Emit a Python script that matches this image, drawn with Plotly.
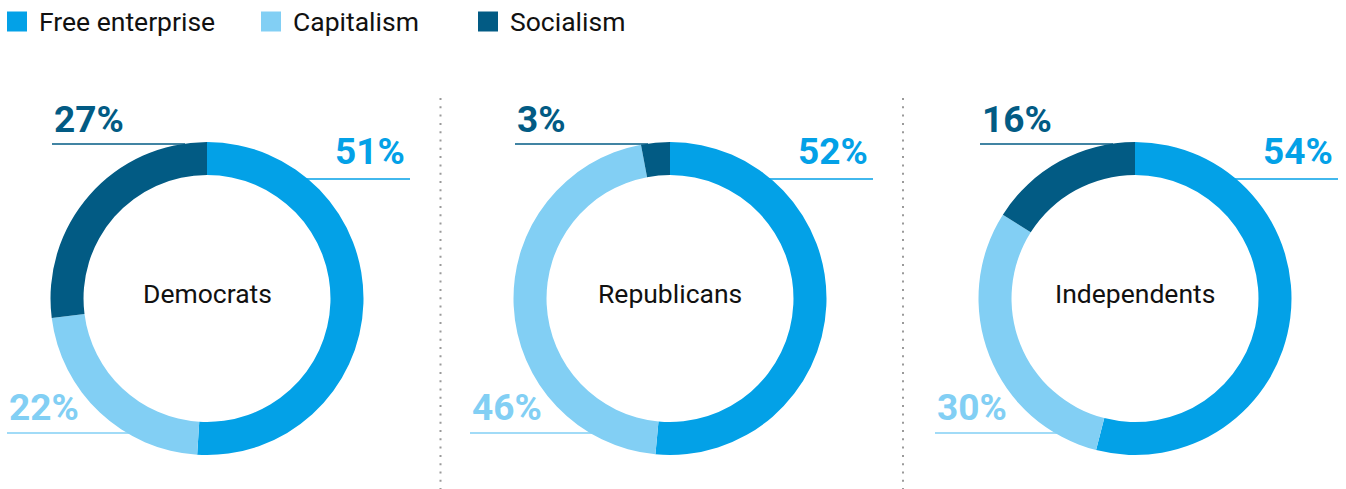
import math
import plotly.graph_objects as go

# --- data -------------------------------------------------------------
groups = ["Democrats", "Republicans", "Independents"]
categories = ["Free enterprise", "Capitalism", "Socialism"]
free_enterprise = [51, 52, 54]
capitalism = [22, 46, 30]
socialism = [27, 3, 16]

colors = ["#03a1e7", "#82cff4", "#025b84"]

# --- geometry (pixels) -------------------------------------------------
W, H = 1346, 489
centers_x = [207, 670, 1135]
cy = 298.5
R = 156.5
HOLE = 0.789
dividers_x = [440.5, 903]

PCT_FONT = dict(family="Roboto, sans-serif", size=37)
TXT_FONT = dict(family="Roboto, sans-serif", size=26.5, color="#111111")


def px(x):
    return x / W


def py(y):
    return 1 - y / H


def ring_edge(dy):
    """Horizontal half-width of the outer ring at vertical offset dy."""
    return math.sqrt(max(R * R - dy * dy, 0.0))


fig = go.Figure()
shapes = []
annotations = []

for i, g in enumerate(groups):
    cx = centers_x[i]
    vals = [free_enterprise[i], capitalism[i], socialism[i]]
    fig.add_trace(go.Pie(
        labels=categories,
        values=vals,
        hole=HOLE,
        sort=False,
        direction="clockwise",
        rotation=0,
        marker=dict(colors=colors, line=dict(width=0)),
        textinfo="none",
        hoverinfo="label+percent",
        domain=dict(x=[px(cx - R), px(cx + R)], y=[py(cy + R), py(cy - R)]),
        showlegend=False,
    ))

    # group name in the middle of the ring
    annotations.append(dict(x=px(cx), y=py(cy - 5), xref="paper", yref="paper",
                            text=g, showarrow=False, font=TXT_FONT,
                            xanchor="center", yanchor="middle"))

    # Socialism: upper-left label with rule running to the ring
    dy = -154.5
    annotations.append(dict(x=px(cx - 155), y=py(cy - 179), xref="paper", yref="paper",
                            text=f"<b>{socialism[i]}%</b>", showarrow=False,
                            font=dict(**PCT_FONT, color=colors[2]),
                            xanchor="left", yanchor="middle"))
    shapes.append(dict(type="line", xref="paper", yref="paper", layer="below",
                       x0=px(cx - 155), x1=px(cx - ring_edge(dy) + 3),
                       y0=py(cy + dy), y1=py(cy + dy),
                       line=dict(color=colors[2], width=1.5)))

    # Free enterprise: upper-right label
    dy = -119.5
    annotations.append(dict(x=px(cx + 200), y=py(cy - 147.5), xref="paper", yref="paper",
                            text=f"<b>{free_enterprise[i]}%</b>", showarrow=False,
                            font=dict(**PCT_FONT, color=colors[0]),
                            xanchor="right", yanchor="middle"))
    shapes.append(dict(type="line", xref="paper", yref="paper", layer="below",
                       x0=px(cx + ring_edge(dy) - 3), x1=px(cx + 203),
                       y0=py(cy + dy), y1=py(cy + dy),
                       line=dict(color=colors[0], width=1.5)))

    # Capitalism: lower-left label
    dy = 134.5
    annotations.append(dict(x=px(cx - 200), y=py(cy + 109), xref="paper", yref="paper",
                            text=f"<b>{capitalism[i]}%</b>", showarrow=False,
                            font=dict(**PCT_FONT, color=colors[1]),
                            xanchor="left", yanchor="middle"))
    shapes.append(dict(type="line", xref="paper", yref="paper", layer="below",
                       x0=px(cx - 200), x1=px(cx - ring_edge(dy) + 3),
                       y0=py(cy + dy), y1=py(cy + dy),
                       line=dict(color=colors[1], width=1.5)))

# dotted separators between the rings
for dx in dividers_x:
    shapes.append(dict(type="line", xref="paper", yref="paper", layer="below",
                       x0=px(dx), x1=px(dx), y0=py(98), y1=py(H),
                       line=dict(color="#9a9a9a", width=2, dash="2px,6.3px")))

# legend drawn as swatches + labels along the top
legend_x = [7, 261, 478]
for lx, cat, col in zip(legend_x, categories, colors):
    shapes.append(dict(type="rect", xref="paper", yref="paper",
                       x0=px(lx), x1=px(lx + 20), y0=py(31.5), y1=py(11.5),
                       fillcolor=col, line=dict(width=0)))
    annotations.append(dict(x=px(lx + 30), y=py(21.5), xref="paper", yref="paper",
                            text=cat, showarrow=False, font=TXT_FONT,
                            xanchor="left", yanchor="middle"))

fig.update_layout(
    width=W, height=H,
    margin=dict(l=0, r=0, t=0, b=0),
    paper_bgcolor="white",
    plot_bgcolor="white",
    showlegend=False,
    shapes=shapes,
    annotations=annotations,
)

fig.write_html("out.html")
